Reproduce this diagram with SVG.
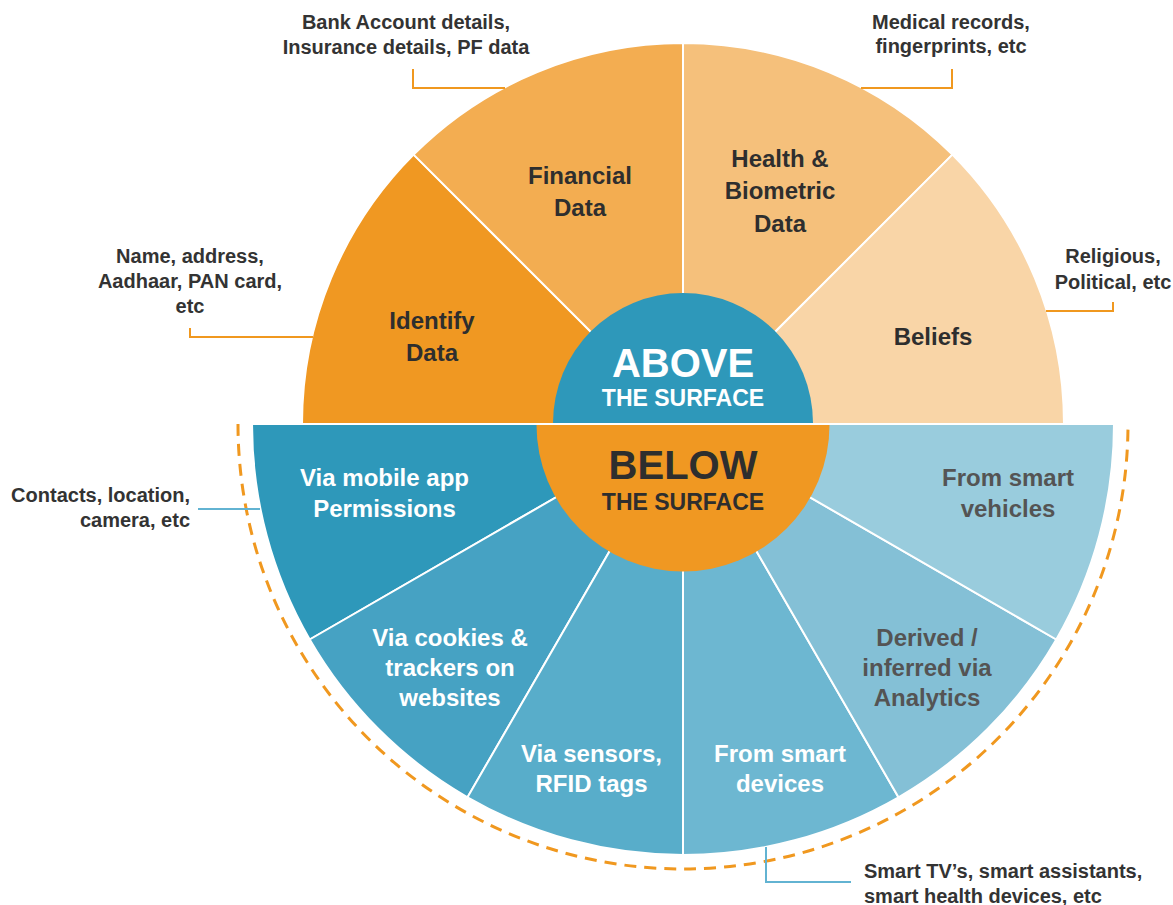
<svg xmlns="http://www.w3.org/2000/svg" width="1173" height="905" viewBox="0 0 1173 905">
<style>
text{font-family:"Liberation Sans",Arial,Helvetica,sans-serif;font-weight:bold;text-anchor:middle}
.sec{stroke:#ffffff;stroke-width:2}
.lbl{font-size:24px}
.dark{fill:#2e2e2e}
.white{fill:#ffffff}
.gray{fill:#545454}
.ann{font-size:20px;fill:#333333}
.oc{fill:none;stroke:#F0981F;stroke-width:2}
.bc{fill:none;stroke:#62B3D2;stroke-width:2}
</style>
<rect width="1173" height="905" fill="#ffffff"/>

<g id="identify-data">
<path class="sec" d="M683,424 L302,424 A381,381 0 0 1 413.6,154.6 Z" fill="#F09822"/>
<text class="lbl dark" x="432" y="329">Identify</text>
<text class="lbl dark" x="432" y="361">Data</text>
</g>
<g id="financial-data">
<path class="sec" d="M683,424 L413.6,154.6 A381,381 0 0 1 683,43 Z" fill="#F3AD51"/>
<text class="lbl dark" x="580" y="184">Financial</text>
<text class="lbl dark" x="580" y="216">Data</text>
</g>
<g id="health-biometric-data">
<path class="sec" d="M683,424 L683,43 A381,381 0 0 1 952.4,154.6 Z" fill="#F5C07B"/>
<text class="lbl dark" x="780" y="167">Health &amp;</text>
<text class="lbl dark" x="780" y="199">Biometric</text>
<text class="lbl dark" x="780" y="232">Data</text>
</g>
<g id="beliefs">
<path class="sec" d="M683,424 L952.4,154.6 A381,381 0 0 1 1064,424 Z" fill="#F9D5A7"/>
<text class="lbl dark" x="933" y="345">Beliefs</text>
</g>

<g id="mobile-app">
<path class="sec" d="M683,424 L252,424 A431,431 0 0 0 309.7,639.5 Z" fill="#2E98BA"/>
<text class="lbl white" x="384.5" y="486">Via mobile app</text>
<text class="lbl white" x="384.5" y="517">Permissions</text>
</g>
<g id="cookies-trackers">
<path class="sec" d="M683,424 L309.7,639.5 A431,431 0 0 0 467.5,797.3 Z" fill="#46A2C3"/>
<text class="lbl white" x="450" y="646">Via cookies &amp;</text>
<text class="lbl white" x="450" y="676">trackers on</text>
<text class="lbl white" x="450" y="706">websites</text>
</g>
<g id="sensors-rfid">
<path class="sec" d="M683,424 L467.5,797.3 A431,431 0 0 0 683,855 Z" fill="#58ADCA"/>
<text class="lbl white" x="591.5" y="762">Via sensors,</text>
<text class="lbl white" x="591.5" y="792">RFID tags</text>
</g>
<g id="smart-devices">
<path class="sec" d="M683,424 L683,855 A431,431 0 0 0 898.5,797.3 Z" fill="#6DB7D1"/>
<text class="lbl white" x="780" y="762">From smart</text>
<text class="lbl white" x="780" y="792">devices</text>
</g>
<g id="derived-analytics">
<path class="sec" d="M683,424 L898.5,797.3 A431,431 0 0 0 1056.3,639.5 Z" fill="#84C0D6"/>
<text class="lbl gray" x="927" y="646">Derived /</text>
<text class="lbl gray" x="927" y="676">inferred via</text>
<text class="lbl gray" x="927" y="706">Analytics</text>
</g>
<g id="smart-vehicles">
<path class="sec" d="M683,424 L1056.3,639.5 A431,431 0 0 0 1114,424 Z" fill="#99CCDD"/>
<text class="lbl gray" x="1008" y="486">From smart</text>
<text class="lbl gray" x="1008" y="517">vehicles</text>
</g>

<g id="above-the-surface">
<path d="M553,423 A130,130 0 0 1 813,423 Z" fill="#2E98BA"/>
<text class="white" x="683" y="377" font-size="40">ABOVE</text>
<text class="white" x="683" y="406" font-size="23">THE SURFACE</text>
</g>
<g id="below-the-surface">
<path d="M536.5,425 A146.5,146.5 0 0 0 829.5,425 Z" fill="#F09822"/>
<text class="dark" x="683" y="479" font-size="40">BELOW</text>
<text class="dark" x="683" y="510" font-size="23">THE SURFACE</text>
</g>

<g id="boundary">
<path d="M238,424 A445,445 0 0 0 1128,424" fill="none" stroke="#F0981F" stroke-width="3" stroke-dasharray="12 8"/>
</g>

<g id="connectors">
<polyline class="oc" points="413,69 413,88 505,88"/>
<polyline class="oc" points="952,69 952,88 861,88"/>
<polyline class="oc" points="190,328 190,337 313,337"/>
<polyline class="oc" points="1113,302 1113,311 1046,311"/>
<line class="bc" x1="198" y1="509" x2="260" y2="509"/>
<polyline class="bc" points="766,847 766,882 851,882"/>
</g>

<g id="annotations">
<text class="ann" x="406" y="29">Bank Account details,</text>
<text class="ann" x="406" y="54">Insurance details, PF data</text>
<text class="ann" x="951" y="29">Medical records,</text>
<text class="ann" x="951" y="53">fingerprints, etc</text>
<text class="ann" x="190" y="263">Name, address,</text>
<text class="ann" x="190" y="288">Aadhaar, PAN card,</text>
<text class="ann" x="190" y="313">etc</text>
<text class="ann" x="1113" y="263">Religious,</text>
<text class="ann" x="1113" y="289">Political, etc</text>
<text class="ann" x="190" y="502" style="text-anchor:end">Contacts, location,</text>
<text class="ann" x="190" y="527" style="text-anchor:end">camera, etc</text>
<text class="ann" x="864" y="878" style="text-anchor:start">Smart TV’s, smart assistants,</text>
<text class="ann" x="864" y="903" style="text-anchor:start">smart health devices, etc</text>
</g>
</svg>
